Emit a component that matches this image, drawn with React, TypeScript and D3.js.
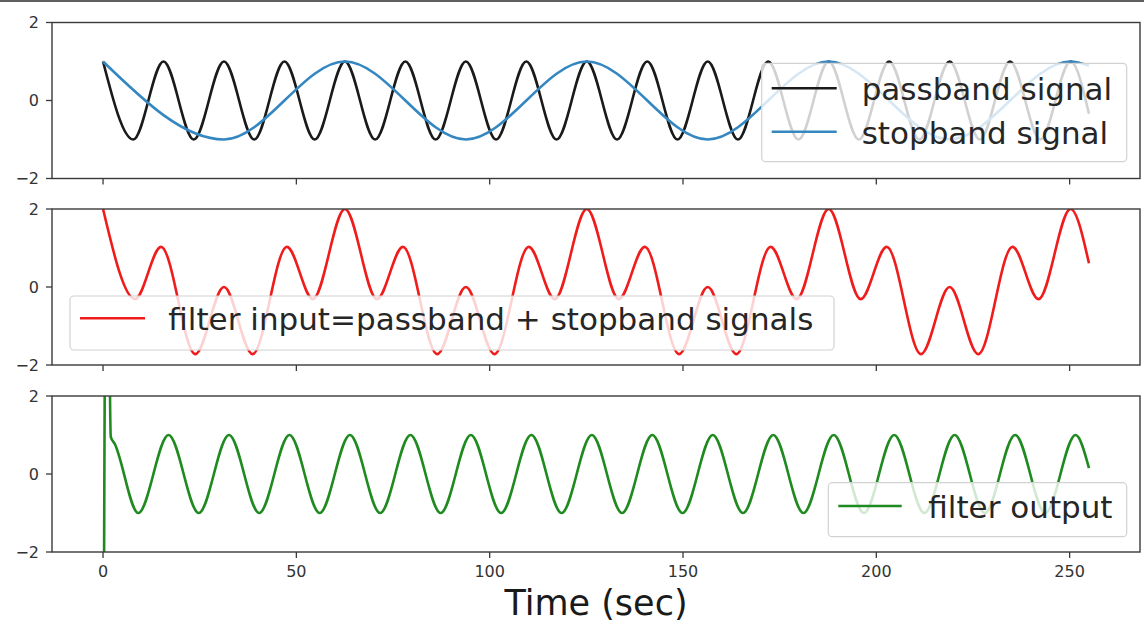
import React from 'react';
import * as d3 from 'd3';

// ---------- data ----------
const xTicks = [0, 50, 100, 150, 200, 250];
const yTicks = [-2, 0, 2];
const xLabel = 'Time (sec)';

// passband signal: extrema times and values
const passT = [0, 7.82, 15.64, 23.46, 31.28, 39.1, 46.92, 54.74, 62.56, 70.38, 78.2, 86.02, 93.84, 101.66, 109.48, 117.3, 125.12, 132.94, 140.76, 148.58, 156.4, 164.22, 172.04, 179.86, 187.68, 195.5, 203.32, 211.14, 218.96, 226.78, 234.6, 242.42, 250.24, 255];
const passV = [1, -1, 1, -1, 1, -1, 1, -1, 1, -1, 1, -1, 1, -1, 1, -1, 1, -1, 1, -1, 1, -1, 1, -1, 1, -1, 1, -1, 1, -1, 1, -1, 1, -0.34];

// stopband signal
const stopT = [0, 31.28, 62.56, 93.84, 125.12, 156.4, 187.68, 218.96, 250.24, 255];
const stopV = [1, -1, 1, -1, 1, -1, 1, -1, 1, 0.89];

// filter input (passband + stopband): local extrema
const inT = [0, 8.29, 15.01, 23.88, 31.28, 38.68, 47.55, 54.27,
  62.56, 70.85, 77.57, 86.44, 93.84, 101.24, 110.11, 116.83,
  125.12, 133.41, 140.13, 149.0, 156.4, 163.8, 172.67, 179.39,
  187.68, 195.97, 202.69, 211.56, 218.96, 226.36, 235.23, 241.95,
  250.24, 255];
const inV = [2, -0.31, 1.03, -1.72, 0, -1.72, 1.03, -0.31,
  2, -0.31, 1.03, -1.72, 0, -1.72, 1.03, -0.31,
  2, -0.31, 1.03, -1.72, 0, -1.72, 1.03, -0.31,
  2, -0.31, 1.03, -1.72, 0, -1.72, 1.03, -0.31,
  2, 0.61];

// filter output
const outT = [0, 1, 2, 3, 9.12, 16.94, 24.76, 32.58, 40.4, 48.22, 56.04, 63.86, 71.68, 79.5, 87.32, 95.14, 102.96, 110.78, 118.6, 126.42, 134.24, 142.06, 149.88, 157.7, 165.52, 173.34, 181.16, 188.98, 196.8, 204.62, 212.44, 220.26, 228.08, 235.9, 243.72, 251.54, 255];
const outV = [-10, 10, 0.95, 0.78, -1, 1, -1, 1, -1, 1, -1, 1, -1, 1, -1, 1, -1, 1, -1, 1, -1, 1, -1, 1, -1, 1, -1, 1, -1, 1, -1, 1, -1, 1, -1, 1, 0.15];

const seriesNames = ['passband signal', 'stopband signal', 'filter input=passband + stopband signals', 'filter output'];
const seriesColors = ['#1a1a1a', '#3487c0', '#f01c1c', '#1f8a1f'];

// ---------- layout ----------
const W = 1144;
const H = 624;
const LEFT = 52;
const RIGHT = 1140;
const panels = [
  { top: 22.5, bottom: 178.5 },
  { top: 209, bottom: 365 },
  { top: 396, bottom: 552 },
];
const FONT = '"DejaVu Sans", sans-serif';

const x = d3.scaleLinear().domain([-13.2, 268.2]).range([LEFT, RIGHT]);

function zip(t: number[], v: number[]): [number, number][] {
  return t.map((tt, i) => [tt, v[i]]);
}

const series = [
  { data: zip(passT, passV), color: seriesColors[0], panel: 0, name: seriesNames[0] },
  { data: zip(stopT, stopV), color: seriesColors[1], panel: 0, name: seriesNames[1] },
  { data: zip(inT, inV), color: seriesColors[2], panel: 1, name: seriesNames[2] },
  { data: zip(outT, outV), color: seriesColors[3], panel: 2, name: seriesNames[3] },
];

const legends = [
  { panel: 0, box: [761.7, 63.3, 1126.7, 161.7], rows: [{ s: 0, y: 88.3 }, { s: 1, y: 131.7 }], lx0: 771.7, lx1: 836.7, tx: 861.7 },
  { panel: 1, box: [70, 296, 834, 350], rows: [{ s: 2, y: 318.3 }], lx0: 80, lx1: 145, tx: 168.3 },
  { panel: 2, box: [828.3, 482.7, 1126.7, 536.7], rows: [{ s: 3, y: 506 }], lx0: 838.3, lx1: 901.7, tx: 928.3 },
];

export default function App() {
  return (
    <svg width={W} height={H} style={{ position: 'absolute', left: 0, top: 0, background: '#fff' }} fontFamily={FONT}>
      <rect x={0} y={0} width={W} height={H} fill="#fff" />
      <line x1={0} x2={W} y1={1} y2={1} stroke="#2a2a2a" strokeWidth={1.6} />
      <defs>
        {panels.map((p, i) => (
          <clipPath id={`clip${i}`} key={i}>
            <rect x={LEFT} y={p.top} width={RIGHT - LEFT} height={p.bottom - p.top} />
          </clipPath>
        ))}
      </defs>
      {panels.map((p, pi) => {
        const y = d3.scaleLinear().domain([-2, 2]).range([p.bottom, p.top]);
        const line = d3.line<[number, number]>().x(d => x(d[0])).y(d => y(d[1])).curve(d3.curveMonotoneX);
        const lg = legends[pi];
        return (
          <g key={pi}>
            <g clipPath={`url(#clip${pi})`}>
              {series.filter(s => s.panel === pi).map((s, si) => (
                <path key={si} d={line(s.data) || ''} fill="none" stroke={s.color} strokeWidth={2.6} strokeLinejoin="round" />
              ))}
            </g>
            {/* frame */}
            <rect x={LEFT} y={p.top} width={RIGHT - LEFT} height={p.bottom - p.top} fill="none" stroke="#3a3a3a" strokeWidth={1.4} />
            {/* y ticks */}
            {yTicks.map(t => (
              <g key={t}>
                <line x1={LEFT - 6} x2={LEFT} y1={y(t)} y2={y(t)} stroke="#3a3a3a" strokeWidth={1.3} />
                <text x={LEFT - 13} y={y(t)} dy="0.36em" textAnchor="end" fontSize={16} fill="#333">{t < 0 ? `\u2212${Math.abs(t)}` : `${t}`}</text>
              </g>
            ))}
            {/* x ticks */}
            {xTicks.map(t => (
              <g key={t}>
                <line x1={x(t)} x2={x(t)} y1={p.bottom} y2={p.bottom + 6} stroke="#3a3a3a" strokeWidth={1.3} />
                {pi === 2 && (
                  <text x={x(t)} y={p.bottom + 25} textAnchor="middle" fontSize={16} fill="#333">{t}</text>
                )}
              </g>
            ))}
            {/* legend */}
            <rect x={lg.box[0]} y={lg.box[1]} width={lg.box[2] - lg.box[0]} height={lg.box[3] - lg.box[1]} rx={4} ry={4}
              fill="#fff" fillOpacity={0.8} stroke="#d2d2d2" strokeWidth={1.2} />
            {lg.rows.map(r => (
              <g key={r.s}>
                <line x1={lg.lx0} x2={lg.lx1} y1={r.y} y2={r.y} stroke={series[r.s].color} strokeWidth={2.6} />
                <text x={lg.tx} y={r.y + 12} fontSize={31} fill="#262626">{series[r.s].name}</text>
              </g>
            ))}
          </g>
        );
      })}
      <text x={(LEFT + RIGHT) / 2} y={615} textAnchor="middle" fontSize={35} fill="#1a1a1a">{xLabel}</text>
    </svg>
  );
}
